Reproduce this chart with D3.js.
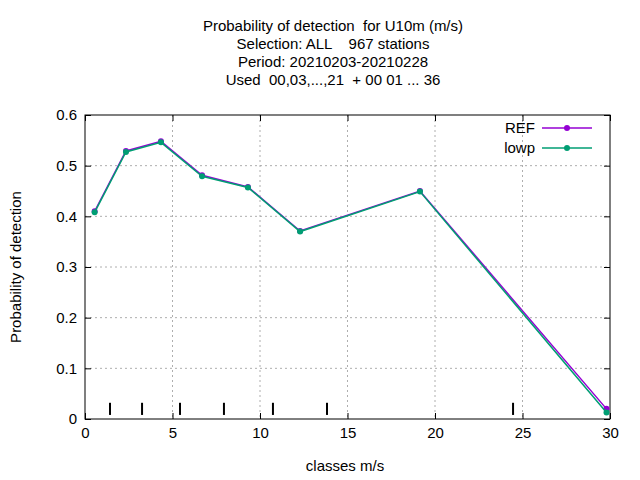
<!DOCTYPE html>
<html><head><meta charset="utf-8">
<script src="https://cdn.jsdelivr.net/npm/d3@7"></script>
<style>body{margin:0;background:#fff}text{font-family:"Liberation Sans",Arial,sans-serif;white-space:pre}</style>
</head><body><svg id="c" width="640" height="480"></svg>
<script>
const xs = [0.55, 2.34, 4.34, 6.69, 9.31, 12.29, 19.14, 29.8];
const refVals = [0.41, 0.529, 0.548, 0.481, 0.458, 0.371, 0.45, 0.02];
const lowpVals = [0.408, 0.527, 0.546, 0.479, 0.457, 0.370, 0.449, 0.013];
const classEdges = [1.43, 3.26, 5.43, 7.94, 10.74, 13.83, 24.46];
const xTicks = [0, 5, 10, 15, 20, 25, 30];
const yTicks = [0, 0.1, 0.2, 0.3, 0.4, 0.5, 0.6];
const titleLines = ["Probability of detection  for U10m (m/s)", "Selection: ALL    967 stations", "Period: 20210203-20210228", "Used  00,03,...,21  + 00 01 ... 36"];

const margin = {top: 115, right: 30, bottom: 61, left: 85};
const width = 640 - margin.left - margin.right, height = 480 - margin.top - margin.bottom;
const svg = d3.select('#c');
const g = svg.append('g').attr('transform', `translate(${margin.left},${margin.top})`);
const x = d3.scaleLinear().domain([0, 30]).range([0, width]);
const y = d3.scaleLinear().domain([0, 0.6]).range([height, 0]);

// grid
g.selectAll('.gx').data(xTicks.slice(1, -1)).enter().append('line')
  .attr('x1', d => x(d)).attr('x2', d => x(d)).attr('y1', 0).attr('y2', height)
  .attr('stroke', '#999').attr('stroke-dasharray', '2,3').attr('stroke-width', 0.8);
g.selectAll('.gy').data(yTicks.slice(1, -1)).enter().append('line')
  .attr('y1', d => y(d)).attr('y2', d => y(d)).attr('x1', 0).attr('x2', width)
  .attr('stroke', '#999').attr('stroke-dasharray', '2,3').attr('stroke-width', 0.8);

const xa = g.append('g').attr('transform', `translate(0,${height})`)
  .call(d3.axisBottom(x).tickValues(xTicks).tickSize(-6).tickPadding(8).tickFormat(d3.format('d')));
const xa2 = g.append('g').call(d3.axisTop(x).tickValues(xTicks).tickSize(-6).tickFormat(''));
const ya = g.append('g').call(d3.axisLeft(y).tickValues(yTicks).tickSize(-6).tickPadding(8).tickFormat(d => d === 0 ? '0' : d3.format('.1f')(d)));
const ya2 = g.append('g').attr('transform', `translate(${width},0)`).call(d3.axisRight(y).tickValues(yTicks).tickSize(-6).tickFormat(''));
[xa, xa2, ya, ya2].forEach(a => { a.select('.domain').remove(); a.selectAll('text').attr('font-size', 15).attr('fill', '#000'); });
g.append('rect').attr('width', width).attr('height', height).attr('fill', 'none').attr('stroke', '#000');

// class edges
g.selectAll('.edge').data(classEdges).enter().append('line')
  .attr('x1', d => x(d)).attr('x2', d => x(d)).attr('y1', y(0.008)).attr('y2', y(0.032))
  .attr('stroke', '#000').attr('stroke-width', 2);

const series = [{name: 'REF', vals: refVals, color: '#9400d3'}, {name: 'lowp', vals: lowpVals, color: '#009e73'}];
const line = d3.line().x(d => x(d[0])).y(d => y(d[1]));
series.forEach((s, k) => {
  const pts = xs.map((v, i) => [v, s.vals[i]]);
  g.append('path').attr('d', line(pts)).attr('fill', 'none').attr('stroke', s.color).attr('stroke-width', 1.5);
  g.selectAll('.p' + k).data(pts).enter().append('circle')
    .attr('cx', d => x(d[0])).attr('cy', d => y(d[1])).attr('r', 3).attr('fill', s.color);
  const ly = 13 + k * 20;
  g.append('text').attr('x', width - 75).attr('y', ly + 5).attr('text-anchor', 'end').attr('font-size', 15).text(s.name);
  g.append('line').attr('x1', width - 68).attr('x2', width - 18).attr('y1', ly).attr('y2', ly).attr('stroke', s.color).attr('stroke-width', 1.5);
  g.append('circle').attr('cx', width - 43).attr('cy', ly).attr('r', 3).attr('fill', s.color);
});

svg.selectAll('.title').data(titleLines).enter().append('text')
  .attr('x', 333).attr('y', (d, i) => 31 + i * 18).attr('text-anchor', 'middle').attr('font-size', 15).text(d => d);
svg.append('text').attr('x', 345).attr('y', 471).attr('text-anchor', 'middle').attr('font-size', 15).text('classes m/s');
svg.append('text').attr('transform', 'translate(21,267) rotate(-90)').attr('text-anchor', 'middle').attr('font-size', 15).text('Probability of detection');
</script></body></html>
